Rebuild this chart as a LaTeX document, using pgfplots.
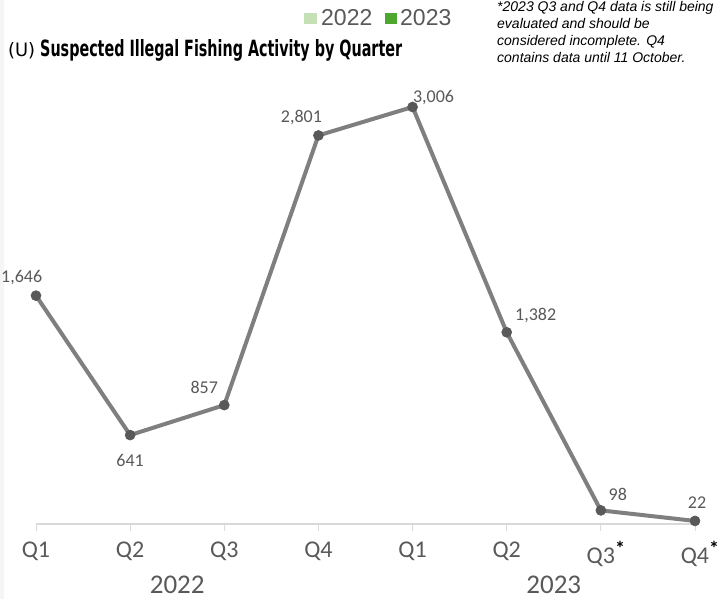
\documentclass[border=0pt]{standalone}
\usepackage{pgfplots}
\pgfplotsset{compat=1.18}
\usepackage{graphicx}
\usepackage{fontspec}
\setmainfont{Carlito}
\newfontfamily\notefont{Liberation Sans}
\newfontfamily\titlefont{DejaVu Sans Condensed}
\definecolor{lineg}{HTML}{7F7F7F}
\definecolor{markg}{HTML}{595959}
\definecolor{txtg}{HTML}{595959}
\definecolor{axg}{HTML}{D9D9D9}
\definecolor{lgA}{HTML}{C5E0B4}
\definecolor{lgB}{HTML}{4EA72E}
\newcommand{\lbl}{\fontsize{18}{18}\selectfont\color{txtg}}
\newcommand{\myast}{\textcolor{black}{\raisebox{8pt}{\fontsize{20}{20}\selectfont\bfseries *}}}
\begin{document}
\begin{tikzpicture}
\useasboundingbox (0,0) rectangle (728pt,599pt);
\fill[white] (0,0) rectangle (728pt,599pt);
\fill[gray!8] (0,0) rectangle (4pt,599pt);
\begin{axis}[
  at={(36pt,75pt)}, anchor=south west,
  scale only axis, width=659pt, height=417pt,
  xmin=0, xmax=7, ymin=0, ymax=3006,
  clip=false,
  axis y line=none,
  axis x line*=bottom,
  axis line style={axg, line width=1.5pt},
  xtick={0,...,7},
  xticklabels={Q1,Q2,Q3,Q4,Q1,Q2,Q3\rlap{\myast},Q4\rlap{\myast}},
  xticklabel style={font=\fontsize{24}{24}\selectfont, text=txtg, yshift=-7pt},
  major tick length=7pt,
  tick align=outside,
  tick style={axg, line width=1pt},
]
\addplot[lineg, line width=4pt, mark=*, mark size=5pt,
  mark options={solid, fill=markg, draw=markg, line width=0.6pt}]
  coordinates {(0,1646)(1,641)(2,857)(3,2801)(4,3006)(5,1382)(6,98)(7,22)};
\node[font=\lbl, anchor=west, inner sep=0pt] at (axis cs:0,1646) [xshift=-35pt,yshift=18pt] {1,646};
\node[font=\lbl] at (axis cs:1,641) [yshift=-25pt] {641};
\node[font=\lbl] at (axis cs:2,857) [xshift=-20pt,yshift=18pt] {857};
\node[font=\lbl] at (axis cs:3,2801) [xshift=-17pt,yshift=18pt] {2,801};
\node[font=\lbl] at (axis cs:4,3006) [xshift=21pt,yshift=9pt] {3,006};
\node[font=\lbl] at (axis cs:5,1382) [xshift=29pt,yshift=17pt] {1,382};
\node[font=\lbl] at (axis cs:6,98) [xshift=17pt,yshift=16pt] {98};
\node[font=\lbl] at (axis cs:7,22) [xshift=2pt,yshift=18pt] {22};
\node[font=\fontsize{27}{27}\selectfont, text=txtg] at (axis cs:1.5,0) [yshift=-61pt] {2022};
\node[font=\fontsize{27}{27}\selectfont, text=txtg] at (axis cs:5.5,0) [yshift=-61pt] {2023};
\end{axis}
% legend
\fill[lgA] (304pt,575pt) rectangle (317pt,586pt);
\fill[lgB] (385pt,575pt) rectangle (397pt,586pt);
\node[anchor=base west, inner sep=0pt, font=\notefont\fontsize{23}{23}\selectfont, text=txtg] at (321pt,573pt) {2022};
\node[anchor=base west, inner sep=0pt, font=\notefont\fontsize{23}{23}\selectfont, text=txtg] at (400pt,573pt) {2023};
% title
\node[anchor=base west, inner sep=0pt] at (8pt,542pt) {\resizebox{27pt}{14pt}{\titlefont (U)}};
\node[anchor=base west, inner sep=0pt] at (40pt,542pt) {\resizebox{362pt}{17pt}{\titlefont\bfseries Suspected Illegal Fishing Activity by Quarter}};
% note
\node[anchor=north west, inner sep=0pt, align=left, font=\notefont\itshape\fontsize{14}{17}\selectfont] at (497pt,598pt)
{*2023 Q3 and Q4 data is still being\\evaluated and should be\\considered incomplete. Q4\\contains data until 11 October.};
\end{tikzpicture}
\end{document}
